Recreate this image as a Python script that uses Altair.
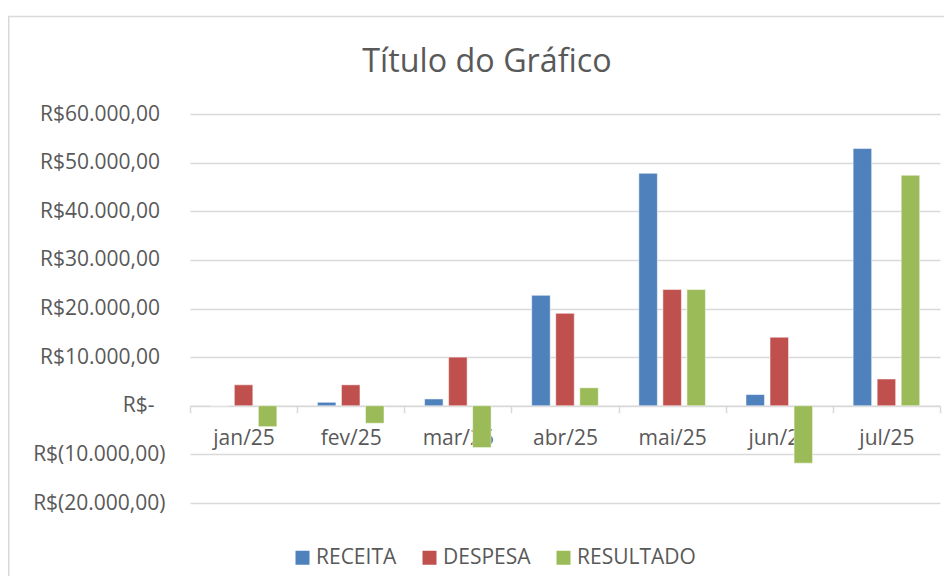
import altair as alt
import pandas as pd

months = ["jan/25", "fev/25", "mar/25", "abr/25", "mai/25", "jun/25", "jul/25"]
series = ["RECEITA", "DESPESA", "RESULTADO"]
receita = [0, 700, 1400, 22700, 47800, 2300, 52900]
despesa = [4300, 4300, 10000, 19000, 23900, 14100, 5500]
resultado = [-4300, -3600, -8600, 3700, 23900, -11800, 47400]
colors = ["#4F81BD", "#C0504D", "#9BBB59"]
chart_title = "Título do Gráfico"

rows = []
for i, m in enumerate(months):
    for s, vals in zip(series, [receita, despesa, resultado]):
        rows.append({"mes": m, "serie": s, "valor": vals[i]})
df = pd.DataFrame(rows)

FONT = "Open Sans"
TXT = "#595959"
GRID = "#D9D9D9"
W, H = 750, 389
FS = 21

label_expr = (
    "datum.value == 0 ? 'R$-\u00a0\u00a0\u200b' : datum.value < 0 ? "
    "'R$(' + replace(format(-datum.value, ','), ',', '.') + ',00)' : "
    "'R$' + replace(format(datum.value, ','), ',', '.') + ',00\u00a0\u200b'"
)

bars = alt.Chart(df).mark_bar(stroke="white", strokeWidth=0.5).encode(
    x=alt.X("mes:N", sort=months, title=None,
            scale=alt.Scale(paddingInner=0, paddingOuter=0),
            axis=alt.Axis(orient="bottom", offset=-H / 4, labelAngle=0,
                          tickBand="extent", tickSize=7, tickColor=GRID,
                          tickWidth=1.5, domainColor=GRID, domainWidth=1.5,
                          labelPadding=15, labelFont=FONT, labelFontSize=FS,
                          labelColor=TXT, grid=False)),
    xOffset=alt.XOffset("serie:N", sort=series,
                        scale=alt.Scale(paddingInner=0.23, paddingOuter=0.844)),
    y=alt.Y("valor:Q", title=None,
            scale=alt.Scale(domain=[-20000, 60000], nice=False),
            axis=alt.Axis(values=list(range(-20000, 60001, 10000)),
                          labelExpr=label_expr, ticks=False, domain=False,
                          labelPadding=25, labelFont=FONT, labelFontSize=FS,
                          labelColor=TXT, gridColor=GRID, gridWidth=1.5)),
    color=alt.Color("serie:N", sort=series,
                    scale=alt.Scale(domain=series, range=colors),
                    legend=alt.Legend(title=None, orient="none", direction="horizontal",
                                      legendX=102, legendY=433,
                                      symbolType="square", symbolSize=196,
                                      symbolStrokeWidth=0, labelFont=FONT,
                                      labelFontSize=FS, labelColor=TXT,
                                      labelOffset=3, columnPadding=22)),
)

one = pd.DataFrame({"t": [chart_title]})

frame = alt.Chart(one).mark_rect(
    fill=None, stroke=GRID, strokeWidth=1.5
).encode(
    x=alt.value(-181.25), x2=alt.value(800),
    y=alt.value(-97.5), y2=alt.value(520),
)

title = alt.Chart(one).mark_text(
    font=FONT, fontSize=32.3, color=TXT, align="center", baseline="alphabetic"
).encode(
    text="t:N", x=alt.value(297), y=alt.value(-42),
)

chart = alt.layer(frame, title, bars).properties(
    width=W, height=H,
    autosize=alt.AutoSizeParams(type="none"),
    padding={"left": 182, "top": 106, "right": 4, "bottom": 73},
).configure_view(stroke=None)

chart.save("out.html", embed_options={"renderer": "svg", "actions": False})
